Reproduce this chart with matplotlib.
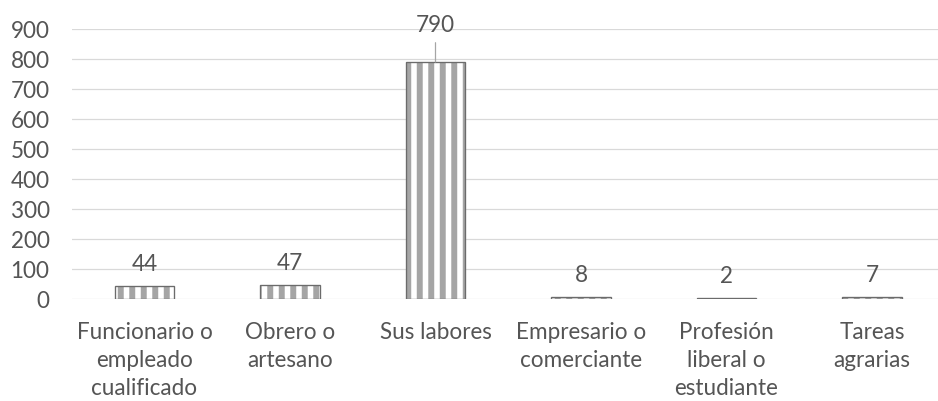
import matplotlib

matplotlib.use("Agg")
import matplotlib.pyplot as plt

categories = [
    "Funcionario o\nempleado\ncualificado",
    "Obrero o\nartesano",
    "Sus labores",
    "Empresario o\ncomerciante",
    "Profesión\nliberal o\nestudiante",
    "Tareas\nagrarias",
]
values = [44, 47, 790, 8, 2, 7]
y_ticks = list(range(0, 1000, 100))

DPI = 69
FS = 23.5
plt.rcParams["font.family"] = ["Lato", "DejaVu Sans"]
plt.rcParams["hatch.linewidth"] = 6.2

text_color = "#555555"
grid_color = "#d9d9d9"
stripe_color = "#a5a5a5"
edge_color = "#6b6b6b"

fig = plt.figure(figsize=(938 / DPI, 401 / DPI), dpi=DPI)
W, H = 938, 401
ax = fig.add_axes([71.75 / W, 1 - 299 / H, 873 / W, 270 / H])

x = range(len(categories))
ax.bar(x, values, width=0.41, color="white", edgecolor=stripe_color, hatch="|", linewidth=0, zorder=2)
ax.bar(x, values, width=0.41, fill=False, edgecolor=edge_color, linewidth=1.4, zorder=3)

for i, v in enumerate(values):
    if v > 500:
        ax.annotate(str(v), xy=(i, v), xytext=(i, 890), ha="center", va="baseline",
                    fontsize=FS, color=text_color, annotation_clip=False,
                    arrowprops=dict(arrowstyle="-", color=stripe_color, lw=1.3, shrinkA=5, shrinkB=0))
    else:
        ax.annotate(str(v), xy=(i, v), xytext=(0, 15.6), textcoords="offset points",
                    ha="center", va="baseline", fontsize=FS, color=text_color)

ax.set_xlim(-0.5, len(categories) - 0.5)
ax.set_ylim(0, 900)
ax.set_yticks(y_ticks)
ax.set_xticks(list(x))
ax.set_xticklabels(categories, fontsize=FS, color=text_color, linespacing=1.42)
ax.tick_params(axis="y", labelsize=FS, labelcolor=text_color, length=0, pad=23)
ax.tick_params(axis="x", length=0, pad=24)
ax.yaxis.grid(True, color=grid_color, linewidth=1.3, zorder=0)
ax.set_axisbelow(True)
for s in ax.spines.values():
    s.set_visible(False)

fig.savefig("out.png", dpi=DPI, facecolor="white")
